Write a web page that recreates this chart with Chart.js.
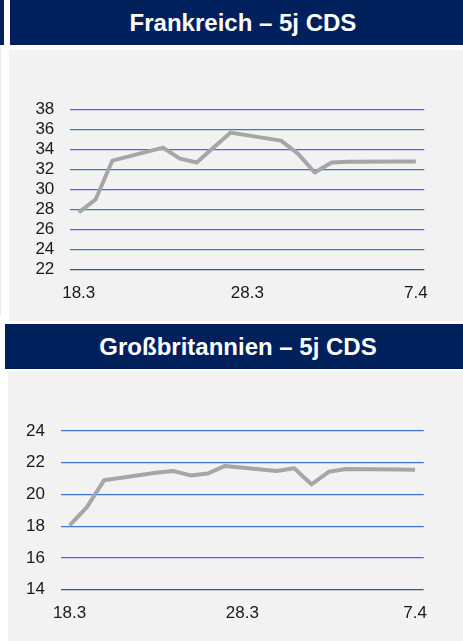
<!DOCTYPE html>
<html>
<head>
<meta charset="utf-8">
<script src="https://cdn.jsdelivr.net/npm/chart.js@4.4.0/dist/chart.umd.min.js"></script>
<style>
  body { margin: 0; width: 463px; height: 641px; overflow: hidden; background: #fff; position: relative; font-family: "Liberation Sans", Arial, sans-serif; }
  .strip { position: absolute; left: 0; top: 0; width: 4px; height: 45px; background: #00205B; }
  .edge { position: absolute; left: 0; top: 46px; width: 1px; height: 270px; background: #ececec; }
  .header { position: absolute; width: 466px; height: 45px; background: #00205B; color: #fff;
            font-weight: bold; font-size: 24px; line-height: 46px; text-align: center; white-space: nowrap; }
  .panel { position: absolute; background: #F2F2F2; }
  canvas { display: block; }
</style>
</head>
<body>
<div class="strip"></div>
<div class="edge"></div>
<div class="header" style="left:10px; top:0px;">Frankreich – 5j CDS</div>
<div class="panel" style="left:9px; top:50px; width:454px; height:271px;">
  <canvas id="frChart" width="454" height="271"></canvas>
</div>
<div class="header" style="left:5px; top:324px;">Großbritannien – 5j CDS</div>
<div class="panel" style="left:8px; top:371px; width:455px; height:270px;">
  <canvas id="gbChart" width="455" height="270"></canvas>
</div>

<script>
// Calendar days 18.3 - 7.4 (weekends have no quote -> null)
const dates = ["18.3", "19.3", "20.3", "21.3", "22.3", "23.3", "24.3", "25.3", "26.3", "27.3",
               "28.3", "29.3", "30.3", "31.3", "1.4", "2.4", "3.4", "4.4", "5.4", "6.4", "7.4"];
const shownDates = ["18.3", "28.3", "7.4"];

// Frankreich 5j CDS
const frValues = [27.7, 29.0, 32.9, null, null, 34.2, 33.1, 32.7, 34.2, 35.7,
                  null, null, 34.9, 33.6, 31.7, 32.7, 32.77, null, null, 32.8, 32.8];
const frTicks = [22, 24, 26, 28, 30, 32, 34, 36, 38];

// Großbritannien 5j CDS
const gbValues = [18.05, 19.2, 20.9, null, null, 21.37, 21.48, 21.2, 21.32, 21.8,
                  null, null, 21.48, 21.65, 20.64, 21.43, 21.6, null, null, 21.58, 21.56];
const gbTicks = [14, 16, 18, 20, 22, 24];

const tickFont = { family: "'Liberation Sans', Arial, sans-serif", size: 17 };

function makeChart(id, values, yTicks, area) {
    const ctx = document.getElementById(id).getContext('2d');
    return new Chart(ctx, {
        type: 'line',
        data: {
            labels: dates,
            datasets: [{
                data: values,
                borderColor: '#A6A6A6',
                borderWidth: 4,
                pointRadius: 0,
                tension: 0,
                spanGaps: true,
                borderJoinStyle: 'round'
            }]
        },
        options: {
            responsive: false,
            animation: false,
            layout: { padding: { left: 0, top: area.top, right: area.right, bottom: 0 } },
            plugins: { legend: { display: false }, tooltip: { enabled: false } },
            scales: {
                x: {
                    offset: true,
                    grid: { display: false, drawTicks: false },
                    border: { display: false },
                    ticks: {
                        autoSkip: false, maxRotation: 0, minRotation: 0,
                        padding: 13.5, color: '#1a1a1a', font: tickFont,
                        callback: function (val, i) {
                            const lbl = dates[i];
                            return shownDates.includes(lbl) ? lbl : '';
                        }
                    },
                    afterFit: function (scale) { scale.height = area.xHeight; }
                },
                y: {
                    min: yTicks[0],
                    max: yTicks[yTicks.length - 1],
                    afterBuildTicks: function (scale) { scale.ticks = yTicks.map(v => ({ value: v })); },
                    grid: {
                        drawTicks: false,
                        lineWidth: 1.3,
                        color: ctx => ctx.tick && ctx.tick.value === yTicks[0] ? '#44546A' : '#4472C4'
                    },
                    border: { display: false },
                    ticks: { autoSkip: false, padding: 16, color: '#1a1a1a', font: tickFont },
                    afterFit: function (scale) { scale.width = area.yWidth; }
                }
            }
        }
    });
}

makeChart('frChart', frValues, frTicks, { top: 59.7, right: 38.7, yWidth: 61.3, xHeight: 51.7 });
makeChart('gbChart', gbValues, gbTicks, { top: 60, right: 39.3, yWidth: 53, xHeight: 51.3 });
</script>
</body>
</html>
